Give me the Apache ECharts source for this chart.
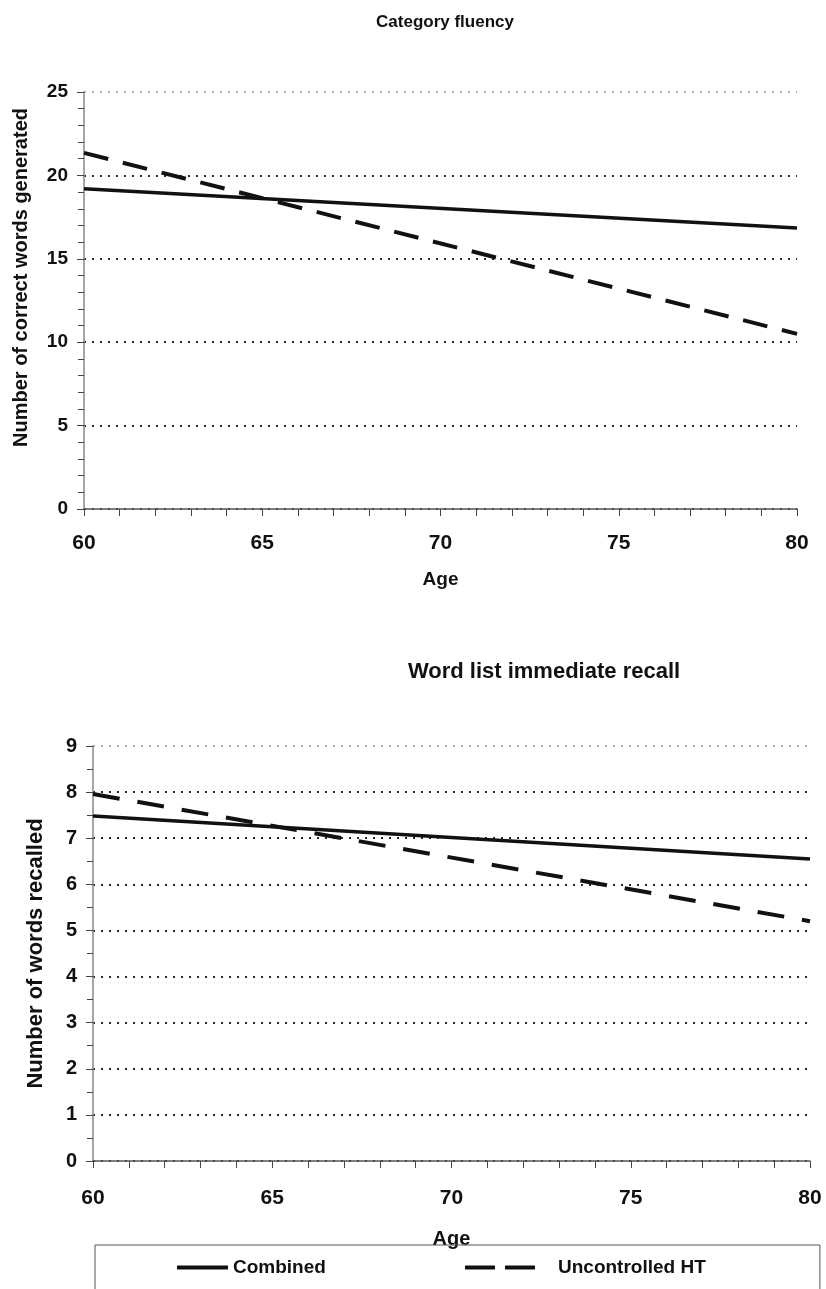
<!DOCTYPE html>
<html>
<head>
<meta charset="utf-8">
<script src="https://cdn.jsdelivr.net/npm/echarts@6/dist/echarts.min.js"></script>
<style>
  html, body { margin: 0; padding: 0; background: #fff; }
  #main { width: 826px; height: 1289px; }
</style>
</head>
<body>
<div id="main"></div>
<script>
// values (linear fits, age 60 -> 80)
var ages = [60, 80];
var fluencyCombined = [19.2, 16.85];
var fluencyUncontrolled = [21.35, 10.5];
var recallCombined = [7.48, 6.55];
var recallUncontrolled = [7.96, 5.2];

var seriesNames = ['Combined', 'Uncontrolled HT'];
var titles = ['Category fluency', 'Word list immediate recall'];
var yNames = ['Number of correct words generated', 'Number of words recalled'];

var FONT = '"Liberation Sans", Arial, sans-serif';
var INK = '#111';

function pairs(xs, ys) {
    return xs.map(function (x, i) { return [x, ys[i]]; });
}

// top grid line is printed lighter in the original
function gridColors(n) {
    var c = [];
    for (var i = 0; i < n; i++) c.push(i === n - 1 ? '#b0b0b0' : '#2a2a2a');
    return c;
}

function boldText(size) {
    return { fontFamily: FONT, fontSize: size, fontWeight: 'bold', color: INK };
}

var chart = echarts.init(document.getElementById('main'));

var option = {
    backgroundColor: '#fff',
    animation: false,
    title: [
        { text: titles[0], left: 440, top: 9, textAlign: 'center', textStyle: boldText(17) },
        { text: titles[1], left: 539, top: 656, textAlign: 'center', textStyle: boldText(22) }
    ],
    legend: [
        {
            // this one also draws the frame round both entries
            data: [{ name: seriesNames[0], icon: 'path://M0,0H51V4H0Z' }],
            left: 95,
            top: 1245,
            padding: [13, 494, 40, 82],
            itemWidth: 51,
            itemHeight: 4,
            symbolKeepAspect: false,
            borderColor: '#555',
            borderWidth: 1,
            textStyle: boldText(19)
        },
        {
            data: [{ name: seriesNames[1], icon: 'path://M0,0H30V4H0Z M40,0H70V4H40Z' }],
            left: 465,
            top: 1258,
            padding: 0,
            itemWidth: 70,
            itemHeight: 4,
            symbolKeepAspect: false,
            textStyle: Object.assign(boldText(19), { padding: [0, 0, 0, 18] })
        }
    ],
    grid: [
        { left: 84, right: 29, top: 92, height: 417 },
        { left: 93, right: 16, top: 746, height: 415 }
    ],
    xAxis: [0, 1].map(function (i) {
        return {
            type: 'value', gridIndex: i, min: 60, max: 80, interval: 5,
            name: 'Age', nameLocation: 'middle', nameGap: i === 0 ? 61 : 68,
            nameTextStyle: boldText(i === 0 ? 19 : 20),
            axisLine: { lineStyle: { color: '#555', width: 1.5 } },
            axisTick: { length: 7, lineStyle: { color: '#444' } },
            minorTick: { show: true, splitNumber: 5, length: 7, lineStyle: { color: '#444' } },
            axisLabel: Object.assign(boldText(21), { margin: i === 0 ? 24 : 27 }),
            splitLine: { show: false }
        };
    }),
    yAxis: [
        {
            type: 'value', gridIndex: 0, min: 0, max: 25, interval: 5,
            name: yNames[0], nameLocation: 'middle', nameGap: 53,
            nameTextStyle: Object.assign(boldText(20), { padding: [0, 0, 0, 46] }),
            axisLine: { show: true, lineStyle: { color: '#888', width: 1.5 } },
            axisTick: { show: true, length: 7, lineStyle: { color: '#444' } },
            minorTick: { show: true, splitNumber: 5, length: 6, lineStyle: { color: '#444' } },
            axisLabel: Object.assign(boldText(19), { margin: 16 }),
            splitLine: { show: true, lineStyle: { color: gridColors(6), type: [2, 6], width: 2 } }
        },
        {
            type: 'value', gridIndex: 1, min: 0, max: 9, interval: 1,
            name: yNames[1], nameLocation: 'middle', nameGap: 46,
            nameTextStyle: boldText(22),
            axisLine: { show: true, lineStyle: { color: '#888', width: 1.5 } },
            axisTick: { show: true, length: 7, lineStyle: { color: '#444' } },
            minorTick: { show: true, splitNumber: 2, length: 6, lineStyle: { color: '#444' } },
            axisLabel: Object.assign(boldText(20), { margin: 16 }),
            splitLine: { show: true, lineStyle: { color: gridColors(10), type: [2, 6], width: 2 } }
        }
    ],
    series: [
        {
            name: seriesNames[0], type: 'line', xAxisIndex: 0, yAxisIndex: 0,
            data: pairs(ages, fluencyCombined), symbol: 'none',
            lineStyle: { color: INK, width: 3.5, type: 'solid' },
            itemStyle: { color: INK }
        },
        {
            name: seriesNames[1], type: 'line', xAxisIndex: 0, yAxisIndex: 0,
            data: pairs(ages, fluencyUncontrolled), symbol: 'none',
            lineStyle: { color: INK, width: 4, type: [25, 15] },
            itemStyle: { color: INK }
        },
        {
            name: seriesNames[0], type: 'line', xAxisIndex: 1, yAxisIndex: 1,
            data: pairs(ages, recallCombined), symbol: 'none',
            lineStyle: { color: INK, width: 3.5, type: 'solid' },
            itemStyle: { color: INK }
        },
        {
            name: seriesNames[1], type: 'line', xAxisIndex: 1, yAxisIndex: 1,
            data: pairs(ages, recallUncontrolled), symbol: 'none',
            lineStyle: { color: INK, width: 4, type: [27, 18] },
            itemStyle: { color: INK }
        }
    ]
};

chart.setOption(option);
</script>
</body>
</html>
